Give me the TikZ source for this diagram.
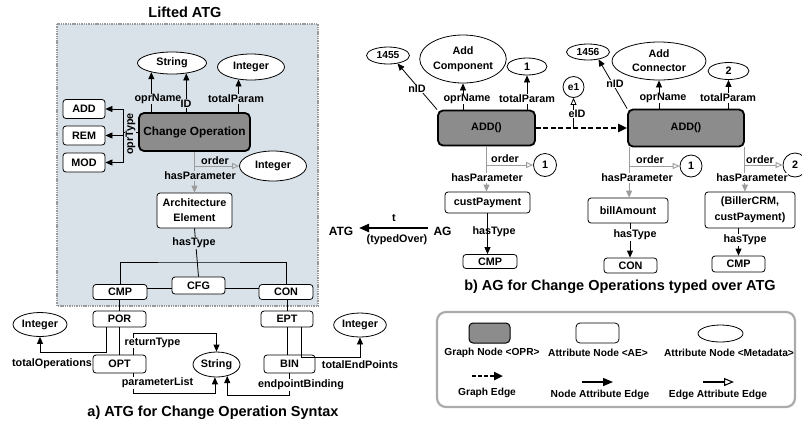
\documentclass[tikz,border=0pt]{standalone}
\usepackage{fontspec}
\setmainfont{Liberation Sans}
\usetikzlibrary{shapes.geometric,arrows.meta,calc}
\definecolor{bgc}{HTML}{D9E2E9}
\definecolor{oprc}{HTML}{8C8C8C}
\definecolor{edgec}{HTML}{9C9C9C}
\definecolor{dotc}{HTML}{9A9A9A}
\definecolor{legc}{HTML}{ABABAB}
\begin{document}
\begin{tikzpicture}[x=1pt,y=-1pt,
 xtxt/.style={font=\fontsize{10.8}{12}\selectfont\bfseries, inner sep=0.6pt},
 xsm/.style={font=\fontsize{10.2}{11}\selectfont\bfseries, inner sep=0.6pt},
 xcap/.style={font=\fontsize{14.5}{16}\selectfont\bfseries, inner sep=0.6pt},
 xbox/.style={draw, rounded corners=3pt, fill=white, line width=0.8pt, inner sep=0pt, xtxt, align=center},
 xopr/.style={xbox, fill=oprc, line width=1.8pt, rounded corners=5pt},
 xell/.style={ellipse, draw, fill=white, line width=0.8pt, inner sep=0pt, xtxt, align=center},
 xarr/.style={line width=0.8pt, -{Triangle[length=7pt,width=6pt]}},
 xoarr/.style={line width=0.8pt, -{Triangle[open,length=7pt,width=6pt]}},
 xgarr/.style={edgec, line width=0.9pt, -{Triangle[length=7pt,width=6pt]}},
 xgoarr/.style={edgec, line width=0.9pt, -{Triangle[open,length=7pt,width=6pt]}},
 xln/.style={line width=0.8pt},
 xlab/.style={xtxt, fill=white},
 xlabb/.style={xtxt, fill=bgc},
]
\useasboundingbox (0,0) rectangle (802,424);
\fill[white] (0,0) rectangle (802,424);

%% ---------------- left panel ----------------
\node[xcap] (title) at (185,12) {Lifted ATG};
\draw[dotc, fill=bgc, line width=1.8pt, dash pattern=on 1.4pt off 0.9pt] (57,24) rectangle (318,306);

\node[xell, minimum width=69pt, minimum height=22pt] (str1) at (172,63) {String};
\node[xell, minimum width=67pt, minimum height=26pt] (int1) at (251,67) {Integer};
\node[xopr, minimum width=111pt, minimum height=38pt, font=\fontsize{11.8}{13}\selectfont\bfseries] (chop) at (194.5,132) {Change Operation};
\node[xbox, minimum width=42pt, minimum height=19pt] (add) at (84,109) {ADD};
\node[xbox, minimum width=42pt, minimum height=19pt] (rem) at (84,135.5) {REM};
\node[xbox, minimum width=42pt, minimum height=19pt] (mod) at (84,162.5) {MOD};
\node[xell, minimum width=67pt, minimum height=30pt] (int2) at (273,166) {Integer};
\node[xbox, minimum width=75pt, minimum height=35pt, font=\fontsize{10.8}{15}\selectfont\bfseries] (ae) at (194.5,210.5) {Architecture\\Element};
\node[xbox, minimum width=54pt, minimum height=15pt] (cmp) at (120,292) {CMP};
\node[xbox, minimum width=53pt, minimum height=17pt] (cfg) at (198.5,285.5) {CFG};
\node[xbox, minimum width=54pt, minimum height=15pt] (con) at (286,292) {CON};
\node[xbox, minimum width=53pt, minimum height=16pt] (por) at (119.5,319) {POR};
\node[xbox, minimum width=52pt, minimum height=16pt] (ept) at (287,319) {EPT};
\node[xbox, minimum width=53pt, minimum height=18pt] (opt) at (119.5,364) {OPT};
\node[xbox, minimum width=51pt, minimum height=18pt] (bin) at (289.5,364) {BIN};
\node[xell, minimum width=54pt, minimum height=24pt] (int3) at (40,324.5) {Integer};
\node[xell, minimum width=52pt, minimum height=24pt] (int4) at (360,325) {Integer};
\node[xell, minimum width=47pt, minimum height=25pt] (str2) at (216.5,364.5) {String};

% attribute edges of Change Operation
\draw[xarr] (str1.204 |- chop.north) -- (str1.204);
\draw[xarr] (str1.324 |- chop.north) -- (str1.324);
\draw[xarr] (int1.225 |- chop.north) -- (int1.225);
\node[xlabb] at (158,99) {oprName};
\node[xlabb] at (186,103.5) {ID};
\node[xlabb] at (236,99) {totalParam};

% oprType
\coordinate (otc) at (123,0);
\draw[xln] (otc |- add) -- (otc |- mod);
\draw[xarr] (otc |- add) -- (add.east);
\draw[xarr] (otc |- rem) -- (rem.east);
\draw[xarr] (otc |- mod) -- (mod.east);
\draw[xln] (chop.west) -- (chop.west -| otc);
\node[xlabb, rotate=90] at (130.5,134) {oprType};

% order / hasParameter
\draw[xgoarr] (chop.south) |- (int2.west);
\draw[xgarr] (chop.south) -- (ae.north);
\node[xtxt] at (215,161) {order};
\node[xlabb] at (200,176) {hasParameter};

% hasType tree
\coordinate (jn) at (194.5,262);
\draw[xln] (ae.south) -- (cfg.north);
\draw[xln] (cmp.north) |- (jn) -| (con.north);
\node[xlabb] at (194,243) {hasType};
\draw[xln] ([yshift=-2.5pt]cfg.west) -- ([yshift=-2.5pt]cfg.west -| cmp.east);
\draw[xln] ([yshift=-2.5pt]cfg.east) -- ([yshift=-2.5pt]cfg.east -| con.west);
\draw[xln] (por.north) -- (por.north |- cmp.south);
\draw[xln] (ept.north) -- (ept.north |- con.south);
\draw[xln] (opt.north) -- (opt.north |- por.south);
\draw[xln] (bin.north -| ept.south) -- (ept.south);

% totalOperations
\coordinate (toc) at (40,352);
\draw[xarr] ([xshift=-13.5pt]por.south) |- (toc) -- (int3.south);
\node[xtxt] at (52,364) {totalOperations};

% returnType
\coordinate (rtc) at (216.5,333);
\draw[xarr] ([xshift=13.5pt]opt.north) |- (rtc) -- (str2.north);
\node[xlab] at (152.5,343) {returnType};

% parameterList
\coordinate (plc) at (0,393);
\draw[xarr] ([xshift=13.5pt]opt.south) |- (plc -| str2.263) -- (str2.263);
\node[xlab] at (157.5,383) {parameterList};

% endpointBinding
\coordinate (ebc) at (0,395);
\draw[xarr] (bin.south) |- (ebc -| str2.313) -- (str2.313);
\node[xlab] at (301,385) {endpointBinding};

% totalEndPoints
\coordinate (tec) at (0,357);
\draw[xarr] ([xshift=14pt]ept.south) |- (tec -| int4.south) -- (int4.south);
\node[xtxt] at (360,365) {totalEndPoints};

\node[xcap] (capa) at (213,413) {a) ATG for Change Operation Syntax};

%% ---------------- middle ----------------
\node[xtxt, font=\fontsize{12}{13}\selectfont\bfseries] (atg) at (341,231) {ATG};
\node[xtxt, font=\fontsize{12}{13}\selectfont\bfseries] (ag) at (442.5,231) {AG};
\draw[line width=2.2pt, -{Triangle[length=10pt,width=8pt]}, shorten <=5pt, shorten >=5pt] ([yshift=3pt]ag.west) -- ([yshift=3pt]atg.east);
\node[xtxt] at (394,218) {t};
\node[xtxt] at (397,240) {(typedOver)};

%% ---------------- right panel ----------------
\node[xell, minimum width=43pt, minimum height=17pt, xsm] (n1455) at (388,55.5) {1455};
\node[xell, minimum width=86pt, minimum height=48pt, font=\fontsize{10.8}{15}\selectfont\bfseries] (addc) at (463,59) {Add\\Component};
\node[xell, minimum width=40pt, minimum height=17pt] (one1) at (527,66.5) {1};
\node[xell, minimum width=21pt, minimum height=21pt, xsm] (e1) at (573.5,87) {e1};
\node[xopr, minimum width=97pt, minimum height=35pt] (addL) at (486.5,128) {ADD()};
\node[xopr, minimum width=116pt, minimum height=37pt] (addR) at (686,128) {ADD()};
\node[xell, minimum width=43pt, minimum height=16pt, xsm] (n1456) at (588,52) {1456};
\node[xell, minimum width=94pt, minimum height=38pt, font=\fontsize{10.8}{14}\selectfont\bfseries] (addcon) at (659,61) {Add\\Connector};
\node[xell, minimum width=41pt, minimum height=17pt] (two1) at (728.5,71) {2};
\node[xell, minimum size=23pt] (c1a) at (545,165) {1};
\node[xell, minimum size=22pt] (c1b) at (691,166) {1};
\node[xell, minimum size=24pt] (c2) at (795,165) {2};
\node[xbox, minimum width=85pt, minimum height=21pt] (custP) at (487.5,202.5) {custPayment};
\node[xbox, minimum width=80pt, minimum height=25pt] (billA) at (628,210.5) {billAmount};
\node[xbox, minimum width=90pt, minimum height=36pt, font=\fontsize{10.8}{16}\selectfont\bfseries] (biller) at (750,210) {(BillerCRM,\\custPayment)};
\node[xbox, minimum width=54pt, minimum height=14pt] (cmpA) at (490,261.5) {CMP};
\node[xbox, minimum width=53pt, minimum height=15pt] (conB) at (630.5,265.5) {CON};
\node[xbox, minimum width=53pt, minimum height=16pt] (cmpC) at (738.5,264) {CMP};

% left ADD() attributes
\draw[xarr] (addL.north west) -- (n1455.320);
\node[xlab] at (417,89) {nID};
\draw[xarr] (addc.south |- addL.north) -- (addc.south);
\node[xlab] at (467,99) {oprName};
\draw[xarr] (one1.south |- addL.north) -- (one1.south);
\node[xlab] at (527,99) {totalParam};

% graph edge with eID
\draw[xoarr] (e1.south |- addL.east) -- (e1.south);
\node[xlab] at (577,114) {eID};
\draw[line width=2.6pt, dash pattern=on 5pt off 2.5pt, -{Triangle[length=9pt,width=8pt]}] (addL.east) -- (addR.west);

% right ADD() attributes
\draw[xarr] (addR.north west) -- (n1456.325);
\node[xlab] at (615,84) {nID};
\draw[xarr] (addcon.south |- addR.north) -- (addcon.south);
\node[xlab] at (663,98) {oprName};
\draw[xarr] (two1.south |- addR.north) -- (two1.south);
\node[xlab] at (728,98) {totalParam};

% order / hasParameter (left)
\draw[xgoarr] (addL.south) |- (c1a.west);
\draw[xgarr] (addL.south) -- (addL.south |- custP.north);
\node[xtxt] at (505,159) {order};
\node[xlab] at (487,178) {hasParameter};

% order / hasParameter (middle)
\coordinate (mx) at ([xshift=2pt]addR.south west);
\draw[xgoarr] (mx) |- (c1b.west);
\draw[xgarr] (mx) -- (mx |- billA.north);
\node[xtxt] at (650,160) {order};
\node[xlab] at (637,178) {hasParameter};

% order / hasParameter (right)
\coordinate (rx) at (addR.south east);
\draw[xgoarr] (rx) |- (c2.west);
\draw[xgarr] (rx) -- (rx |- biller.north);
\node[xtxt] at (760,160) {order};
\node[xlab] at (752,178) {hasParameter};

% hasType
\draw[xarr] (custP.south) -- (custP.south |- cmpA.north);
\node[xtxt] at (494,232) {hasType};
\draw[xarr] ([xshift=2pt]billA.south) -- ([xshift=2pt]billA.south |- conB.north);
\node[xlab] at (635,235) {hasType};
\draw[xarr] (cmpC.north |- biller.south) -- (cmpC.north);
\node[xlab] at (745,240) {hasType};

\node[xcap] (capb) at (620,287) {b) AG for Change Operations typed over ATG};

%% ---------------- legend ----------------
\draw[legc, line width=2.2pt, rounded corners=9pt] (437,312) rectangle (795,407);
\node[xopr, line width=1pt, rounded corners=4pt, minimum width=41pt, minimum height=20pt] (lg1) at (489.5,333) {};
\node[xbox, minimum width=43pt, minimum height=20pt, rounded corners=4pt] (lg2) at (597.5,333) {};
\node[xell, minimum width=45pt, minimum height=17pt] (lg3) at (720.5,333.5) {};
\node[xsm] at (492,353) {Graph Node <OPR>};
\node[xsm] at (598,353) {Attribute Node <AE>};
\node[xsm] at (729,353) {Attribute Node <Metadata>};
\coordinate (ge1) at (472,376);
\coordinate (ge2) at (503,376);
\draw[line width=2.4pt, dash pattern=on 4pt off 2pt, -{Triangle[length=9pt,width=8pt]}] (ge1) -- (ge2);
\node[xsm] at (487,393) {Graph Edge};
\coordinate (na1) at (582,382);
\coordinate (na2) at (613,382);
\draw[line width=1.2pt, -{Triangle[length=10pt,width=8pt]}] (na1) -- (na2);
\node[xsm] at (600,395) {Node Attribute Edge};
\coordinate (ea1) at (703,382);
\coordinate (ea2) at (734,382);
\draw[line width=1.1pt, -{Triangle[open,length=10pt,width=8pt]}] (ea1) -- (ea2);
\node[xsm] at (718,395) {Edge Attribute Edge};
\end{tikzpicture}
\end{document}
